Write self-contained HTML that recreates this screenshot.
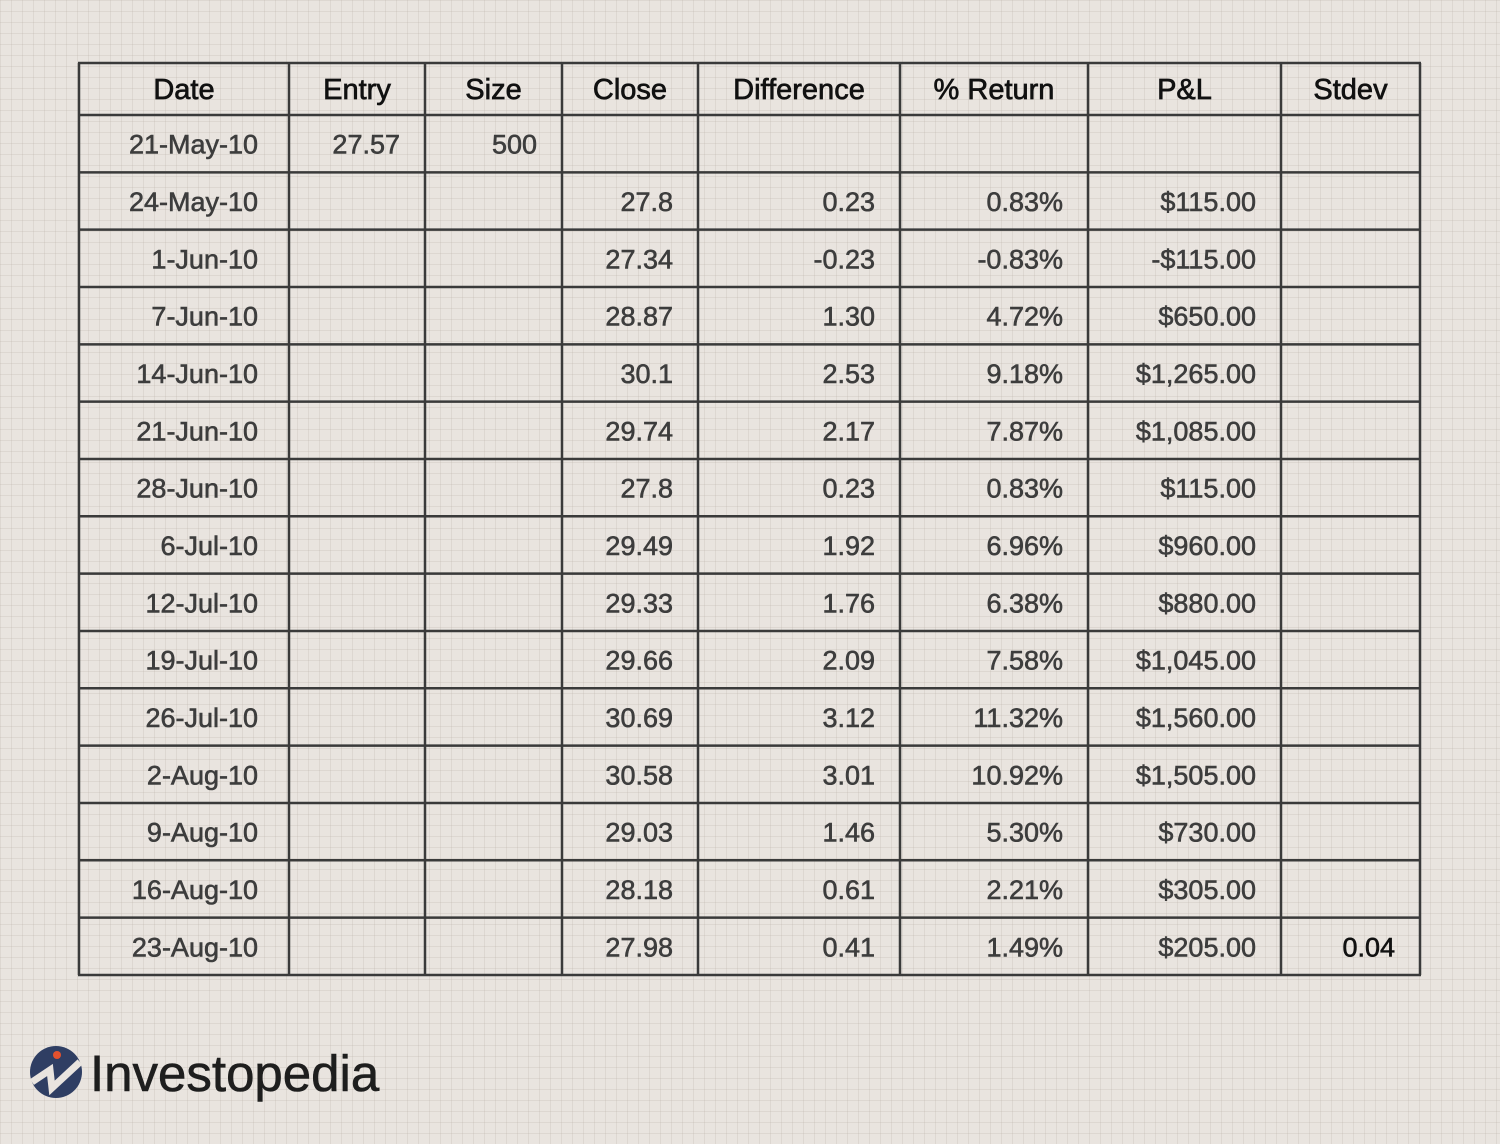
<!DOCTYPE html>
<html><head><meta charset="utf-8"><style>
html,body{margin:0;padding:0}
body{width:1500px;height:1124px;position:relative;overflow:hidden;background-color:#e9e4df;
background-image:linear-gradient(to right,rgba(190,180,172,0.28) 1px,transparent 1px),linear-gradient(to bottom,rgba(190,180,172,0.28) 1px,transparent 1px);
background-size:11px 11px;font-family:"Liberation Sans",sans-serif}
svg{position:absolute;left:0;top:0}
</style></head><body>
<svg width="1500" height="1124" id="tbl"></svg>
<svg width="420" height="124" style="top:1020px">
<circle cx="56" cy="52" r="26" fill="#2f3e63"/>
<polyline points="32,62 50,50 52,68 80,42" fill="none" stroke="#e9e4df" stroke-width="7" stroke-linejoin="miter"/>
<circle cx="57" cy="35" r="4" fill="#e4512d"/>
<text x="90" y="71" font-size="51" fill="#1e1e1e" stroke="#1e1e1e" stroke-width="0.6" font-family="Liberation Sans, sans-serif">Investopedia</text>
</svg>
<script>
const headers=["Date","Entry","Size","Close","Difference","% Return","P&L","Stdev"];
const dates=["21-May-10","24-May-10","1-Jun-10","7-Jun-10","14-Jun-10","21-Jun-10","28-Jun-10","6-Jul-10","12-Jul-10","19-Jul-10","26-Jul-10","2-Aug-10","9-Aug-10","16-Aug-10","23-Aug-10"];
const entries=["27.57","","","","","","","","","","","","","",""];
const sizes=["500","","","","","","","","","","","","","",""];
const closes=["","27.8","27.34","28.87","30.1","29.74","27.8","29.49","29.33","29.66","30.69","30.58","29.03","28.18","27.98"];
const diffs=["","0.23","-0.23","1.30","2.53","2.17","0.23","1.92","1.76","2.09","3.12","3.01","1.46","0.61","0.41"];
const returnsPct=["","0.83%","-0.83%","4.72%","9.18%","7.87%","0.83%","6.96%","6.38%","7.58%","11.32%","10.92%","5.30%","2.21%","1.49%"];
const pnl=["","$115.00","-$115.00","$650.00","$1,265.00","$1,085.00","$115.00","$960.00","$880.00","$1,045.00","$1,560.00","$1,505.00","$730.00","$305.00","$205.00"];
const stdevs=["","","","","","","","","","","","","","","0.04"];
const cols=[79,289,425,562,698,900,1088,1281,1420];
const top0=63,hdrB=115,rowH=57.33;
const svg=document.getElementById('tbl');
const NS="http://www.w3.org/2000/svg";
function mk(t,a){const e=document.createElementNS(NS,t);for(const k in a)e.setAttribute(k,a[k]);svg.appendChild(e);return e;}
const nRows=dates.length;
const bottom=hdrB+nRows*rowH;
for(const x of cols){const l=mk('line',{x1:x,x2:x,y1:top0,y2:bottom,stroke:'#3a3a3a','stroke-width':2.5});

}
const ys=[top0,hdrB];for(let i=1;i<=nRows;i++)ys.push(hdrB+i*rowH);
for(const y of ys){const l=mk('line',{x1:cols[0]-1,x2:cols[8]+1,y1:y,y2:y,stroke:'#3a3a3a','stroke-width':2.5});

}
headers.forEach((h,i)=>{const t=mk('text',{x:(cols[i]+cols[i+1])/2,y:(top0+hdrB)/2+10,'text-anchor':'middle','font-size':29,fill:'#111',stroke:'#111','stroke-width':0.7});
t.textContent=h;

});
const data=[dates,entries,sizes,closes,diffs,returnsPct,pnl,stdevs];
for(let r=0;r<nRows;r++){const cy=hdrB+r*rowH+rowH/2+10;
data.forEach((arr,c)=>{if(!arr[r])return;const pad=c===0?31:25;
const col=c===7?'#111':'#3d3d3d';
const t=mk('text',{x:cols[c+1]-pad,y:cy,'text-anchor':'end','font-size':27,fill:col,stroke:col,'stroke-width':0.6});
t.textContent=arr[r];

});}
</script>
</body></html>
